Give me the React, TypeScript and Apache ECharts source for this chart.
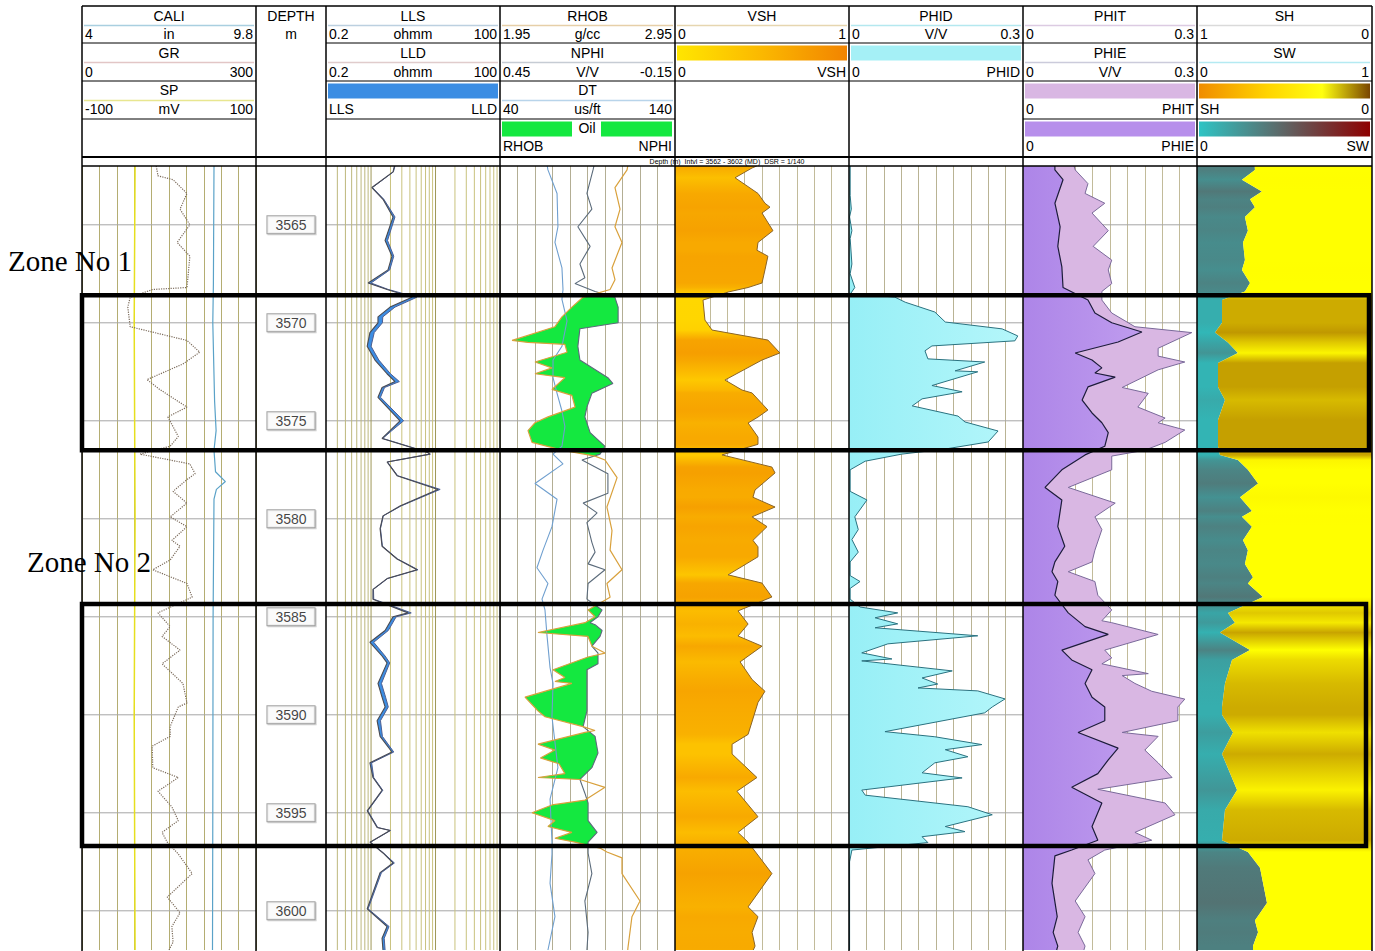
import { useEffect, useRef } from 'react';
import * as echarts from 'echarts';

type Pt = [number, number]; // [depth (m), value]

const DEPTH_TOP = 3562;
const DEPTH_BASE = 3602;
const DEPTH_MARKS = [3565, 3570, 3575, 3580, 3585, 3590, 3595, 3600];
const LOG_GRID = [0.3, 0.4, 0.5, 0.6, 0.7, 0.8, 0.9, 1, 2, 3, 4, 5, 6, 7, 8, 9, 10, 20, 30, 40, 50, 60, 70, 80, 90];

// ---- log curves, [depth, value] ----
const GR: Pt[] = [
  [3562.0, 128], [3562.5, 131], [3562.7, 157], [3563.4, 181], [3564.2, 169], [3565.0, 186], [3565.9, 164],
  [3566.6, 186], [3568.2, 181], [3568.3, 122], [3568.7, 83], [3569.2, 79], [3570.2, 83], [3570.9, 181],
  [3571.5, 203], [3572.1, 174], [3572.9, 112], [3573.4, 134], [3574.3, 181], [3574.8, 148], [3575.8, 166],
  [3576.3, 152], [3576.7, 100], [3577.2, 186], [3577.7, 195], [3578.0, 181], [3578.6, 157], [3579.2, 181],
  [3579.9, 152], [3580.4, 181], [3581.1, 155], [3581.4, 169], [3582.1, 152], [3582.6, 122], [3583.3, 181],
  [3584.0, 190], [3584.8, 131], [3585.5, 152], [3586.0, 138], [3586.7, 169], [3587.4, 138], [3588.4, 174],
  [3589.4, 181], [3589.6, 166], [3590.6, 152], [3591.1, 152], [3591.6, 121], [3592.7, 122], [3593.2, 166],
  [3593.9, 131], [3594.7, 155], [3595.4, 166], [3596.0, 138], [3596.5, 147], [3597.1, 166], [3598.1, 190],
  [3599.3, 147], [3600.1, 169], [3600.8, 155], [3601.6, 157], [3602.0, 150],
];
const CALI: Pt[] = [
  [3562.0, 8.40], [3568.0, 8.38], [3570.0, 8.36], [3574.0, 8.42], [3575.5, 8.47], [3576.5, 8.40], [3577.6, 8.45],
  [3578.1, 8.78], [3578.5, 8.48], [3579.0, 8.40], [3585.0, 8.37], [3595.0, 8.36], [3602.0, 8.35],
];
const SP: Pt[] = [[3562.0, -39], [3570.0, -40], [3580.0, -39], [3590.0, -40], [3602.0, -39]];

const LLS: Pt[] = [
  [3562.0, 2.30], [3562.3, 2.19], [3563.1, 1.03], [3563.7, 1.53], [3564.6, 2.19], [3565.8, 1.65], [3566.6, 2.11],
  [3567.3, 1.83], [3567.97, 0.90], [3568.3, 1.77], [3568.7, 4.32], [3569.2, 1.97], [3569.7, 1.28], [3570.0, 1.28],
  [3570.5, 0.96], [3571.2, 0.87], [3571.9, 1.15], [3572.6, 1.77], [3573.0, 2.35], [3573.3, 1.48], [3573.8, 1.28],
  [3575.0, 2.81], [3575.5, 1.97], [3575.9, 1.48], [3576.6, 7.37], [3576.7, 8.21], [3577.1, 1.77], [3577.8, 2.53],
  [3578.5, 10.9], [3579.35, 2.81], [3579.85, 1.53], [3580.5, 1.38], [3581.4, 1.48], [3582.05, 2.53], [3582.6, 5.16],
  [3583.05, 1.77], [3583.6, 1.07], [3584.1, 1.07], [3584.8, 3.74], [3585.0, 2.19], [3585.7, 1.65], [3586.3, 0.96],
  [3587.0, 1.48], [3587.35, 1.77], [3588.4, 1.28], [3589.1, 1.48], [3589.6, 1.65], [3590.3, 1.24], [3591.1, 1.38],
  [3591.9, 2.11], [3592.45, 0.96], [3593.2, 1.07], [3593.85, 1.48], [3594.9, 0.87], [3595.75, 1.24], [3595.9, 1.97],
  [3596.5, 0.96], [3597.05, 1.53], [3597.56, 2.19], [3598.05, 1.38], [3599.9, 0.87], [3600.8, 1.77], [3601.4, 1.48],
  [3602.0, 1.53],
];
const LLD: Pt[] = [
  [3562.0, 2.35], [3562.3, 2.22], [3563.1, 1.05], [3563.7, 1.58], [3564.6, 2.35], [3565.8, 1.80], [3566.6, 2.25],
  [3567.3, 1.95], [3567.97, 1.00], [3568.3, 1.85], [3568.7, 5.10], [3569.2, 2.35], [3569.7, 1.52], [3570.0, 1.50],
  [3570.5, 1.12], [3571.2, 1.00], [3571.9, 1.32], [3572.6, 2.00], [3573.0, 2.75], [3573.3, 1.62], [3573.8, 1.40],
  [3575.0, 3.20], [3575.5, 2.10], [3575.9, 1.52], [3576.6, 7.50], [3576.7, 8.30], [3577.1, 1.80], [3577.8, 2.58],
  [3578.5, 11.8], [3579.35, 2.90], [3579.85, 1.55], [3580.5, 1.40], [3581.4, 1.50], [3582.05, 2.58], [3582.6, 5.35],
  [3583.05, 1.80], [3583.6, 1.09], [3584.1, 1.10], [3584.8, 4.20], [3585.0, 2.45], [3585.7, 1.85], [3586.3, 1.10],
  [3587.0, 1.65], [3587.35, 1.95], [3588.4, 1.45], [3589.1, 1.68], [3589.6, 1.85], [3590.3, 1.40], [3591.1, 1.50],
  [3591.9, 2.25], [3592.45, 1.02], [3593.2, 1.10], [3593.85, 1.52], [3594.9, 0.89], [3595.75, 1.27], [3595.9, 2.00],
  [3596.5, 0.98], [3597.05, 1.56], [3597.56, 2.30], [3598.05, 1.45], [3599.9, 0.90], [3600.8, 1.90], [3601.4, 1.60],
  [3602.0, 1.65],
];

const RHOB: Pt[] = [
  [3562.0, 2.68], [3562.2, 2.676], [3563.1, 2.607], [3564.2, 2.636], [3565.1, 2.607], [3565.9, 2.647], [3567.2, 2.59],
  [3567.8, 2.607], [3568.3, 2.579], [3568.7, 2.424], [3569.2, 2.361], [3569.7, 2.304], [3570.2, 2.264], [3570.9, 2.019],
  [3571.0, 2.11], [3571.1, 2.321], [3571.5, 2.333], [3572.0, 2.15], [3572.3, 2.247], [3572.6, 2.15], [3572.8, 2.321],
  [3573.4, 2.247], [3573.7, 2.361], [3574.3, 2.379], [3574.8, 2.224], [3575.1, 2.15], [3575.5, 2.11], [3576.1, 2.133],
  [3576.5, 2.304], [3576.8, 2.493], [3577.0, 2.55], [3577.9, 2.619], [3579.4, 2.561], [3580.6, 2.59], [3581.6, 2.579],
  [3582.6, 2.647], [3583.3, 2.561], [3584.0, 2.579], [3584.65, 2.453], [3585.0, 2.493], [3585.3, 2.436], [3585.8, 2.167],
  [3586.0, 2.453], [3586.5, 2.476], [3586.85, 2.55], [3587.05, 2.453], [3587.7, 2.253], [3588.1, 2.321], [3588.3, 2.264],
  [3588.4, 2.361], [3589.1, 2.093], [3589.8, 2.167], [3590.1, 2.207], [3590.6, 2.424], [3590.8, 2.493], [3590.9, 2.436],
  [3591.5, 2.167], [3591.8, 2.264], [3592.2, 2.181], [3592.5, 2.287], [3593.0, 2.321], [3593.2, 2.167], [3593.3, 2.407],
  [3593.7, 2.55], [3594.35, 2.436], [3594.6, 2.247], [3595.0, 2.133], [3595.4, 2.264], [3595.7, 2.224], [3596.0, 2.361],
  [3596.3, 2.264], [3596.5, 2.379], [3596.8, 2.521], [3597.0, 2.561], [3597.3, 2.647], [3598.1, 2.647], [3599.5, 2.75],
  [3600.3, 2.704], [3601.9, 2.681], [3602.0, 2.68],
];
const NPHI: Pt[] = [
  [3562.0, 0.128], [3562.2, 0.131], [3563.4, 0.152], [3564.2, 0.135], [3565.1, 0.183], [3566.1, 0.141], [3567.0, 0.176],
  [3567.7, 0.159], [3568.0, 0.193], [3568.4, 0.124], [3568.7, 0.056], [3569.2, 0.045], [3570.0, 0.045], [3570.3, 0.176],
  [3571.2, 0.183], [3571.9, 0.176], [3572.8, 0.080], [3573.1, 0.063], [3573.6, 0.135], [3574.3, 0.152], [3574.8, 0.159],
  [3575.6, 0.141], [3576.3, 0.090], [3576.7, 0.107], [3577.0, 0.169], [3577.7, 0.080], [3578.7, 0.080], [3579.2, 0.165],
  [3579.7, 0.117], [3580.2, 0.152], [3581.2, 0.135], [3581.7, 0.124], [3582.3, 0.148], [3582.6, 0.090], [3583.3, 0.148],
  [3584.1, 0.152], [3584.65, 0.100], [3585.0, 0.114], [3585.3, 0.141], [3585.4, 0.124], [3585.7, 0.100], [3586.0, 0.107],
  [3586.5, 0.135], [3586.85, 0.114], [3587.4, 0.114], [3587.7, 0.152], [3588.4, 0.152], [3589.8, 0.152], [3590.6, 0.165],
  [3591.1, 0.124], [3591.95, 0.114], [3592.7, 0.135], [3593.3, 0.176], [3594.0, 0.159], [3594.5, 0.148], [3595.4, 0.148],
  [3596.0, 0.117], [3596.5, 0.148], [3597.05, 0.148], [3598.1, 0.135], [3599.5, 0.159], [3601.1, 0.148], [3602.0, 0.152],
];
const DT: Pt[] = [
  [3562.0, 67.0], [3562.2, 67.4], [3563.4, 72.6], [3565.1, 73.1], [3565.9, 71.4], [3567.2, 75.4], [3568.3, 76.0],
  [3568.8, 75.4], [3569.9, 78.3], [3571.2, 75.4], [3571.9, 70.3], [3572.8, 70.3], [3573.6, 72.6], [3574.5, 75.4],
  [3575.3, 77.1], [3576.3, 75.4], [3576.7, 70.3], [3577.2, 76.0], [3578.2, 60.0], [3579.0, 72.6], [3580.4, 69.7],
  [3581.6, 64.6], [3582.5, 61.1], [3583.3, 67.4], [3584.1, 64.0], [3584.65, 65.7], [3586.0, 66.9], [3587.6, 68.6],
  [3588.4, 70.3], [3590.1, 69.7], [3592.7, 73.1], [3594.3, 68.6], [3596.5, 69.7], [3597.1, 69.7], [3598.6, 68.6],
  [3600.3, 71.4], [3602.0, 67.4],
];

const VSH: Pt[] = [
  [3562.0, 0.47], [3562.1, 0.443], [3562.6, 0.345], [3563.4, 0.477], [3563.9, 0.517], [3564.1, 0.546], [3564.4, 0.5],
  [3565.3, 0.563], [3565.9, 0.477], [3566.3, 0.471], [3566.6, 0.534], [3567.3, 0.517], [3567.97, 0.5], [3568.2, 0.42],
  [3568.43, 0.305], [3568.84, 0.161], [3569.86, 0.172], [3570.37, 0.213], [3570.88, 0.534], [3571.54, 0.603],
  [3571.9, 0.5], [3572.56, 0.362], [3572.92, 0.287], [3573.43, 0.385], [3573.58, 0.443], [3574.45, 0.534],
  [3574.81, 0.477], [3575.11, 0.42], [3575.83, 0.477], [3576.2, 0.477], [3576.74, 0.27], [3577.36, 0.557],
  [3577.66, 0.575], [3578.53, 0.46], [3578.9, 0.448], [3579.4, 0.575], [3579.9, 0.443], [3580.4, 0.529], [3581.1, 0.448],
  [3581.43, 0.477], [3581.94, 0.477], [3582.86, 0.305], [3583.28, 0.5], [3583.99, 0.557], [3584.7, 0.362],
  [3585.37, 0.42], [3585.98, 0.362], [3586.5, 0.5], [3587.3, 0.374], [3588.2, 0.443], [3588.8, 0.517], [3589.37, 0.477],
  [3591.0, 0.42], [3591.5, 0.328], [3592.0, 0.328], [3593.2, 0.471], [3593.9, 0.356], [3595.2, 0.477], [3596.0, 0.362],
  [3596.5, 0.42], [3598.1, 0.557], [3599.8, 0.42], [3600.3, 0.477], [3601.1, 0.443], [3601.8, 0.46], [3602.0, 0.45],
];
const PHID: Pt[] = [
  [3562.0, 0.002], [3563.5, 0.002], [3564.2, 0.004], [3564.6, 0.001], [3565.3, 0.005], [3565.7, 0.002], [3567.0, 0.005],
  [3567.5, 0.002], [3568.2, 0.010], [3568.5, 0.003], [3568.69, 0.079], [3568.95, 0.097], [3569.45, 0.148],
  [3569.96, 0.166], [3570.31, 0.264], [3570.67, 0.291], [3570.92, 0.286], [3571.18, 0.143], [3571.43, 0.131],
  [3571.84, 0.136], [3572.0, 0.234], [3572.45, 0.183], [3572.5, 0.222], [3573.2, 0.143], [3573.52, 0.195],
  [3573.88, 0.126], [3574.24, 0.109], [3574.76, 0.188], [3575.06, 0.200], [3575.52, 0.257], [3576.08, 0.240],
  [3576.44, 0.166], [3576.7, 0.091], [3577.06, 0.028], [3577.5, 0.002], [3578.6, 0.002], [3579.04, 0.031],
  [3579.9, 0.010], [3580.55, 0.016], [3581.06, 0.005], [3581.7, 0.016], [3582.2, 0.002], [3582.9, 0.002],
  [3583.2, 0.019], [3583.55, 0.002], [3584.1, 0.002], [3584.5, 0.019], [3584.8, 0.084], [3585.05, 0.045],
  [3585.36, 0.084], [3585.56, 0.045], [3585.97, 0.222], [3586.38, 0.067], [3586.84, 0.022], [3587.15, 0.074],
  [3587.25, 0.022], [3587.76, 0.178], [3588.12, 0.126], [3588.43, 0.153], [3588.63, 0.119], [3588.78, 0.222],
  [3589.19, 0.269], [3589.6, 0.247], [3589.9, 0.234], [3590.86, 0.062], [3591.12, 0.148], [3591.52, 0.229],
  [3591.78, 0.166], [3592.14, 0.205], [3592.45, 0.148], [3592.96, 0.126], [3593.22, 0.195], [3593.84, 0.022],
  [3594.1, 0.028], [3594.69, 0.205], [3595.1, 0.247], [3595.7, 0.166], [3595.96, 0.200], [3596.22, 0.126],
  [3596.52, 0.136], [3596.9, 0.005], [3597.5, 0.001], [3602.0, 0.001],
];
const PHIT: Pt[] = [
  [3562.0, 0.088], [3562.2, 0.090], [3562.9, 0.112], [3563.4, 0.107], [3563.9, 0.141], [3564.4, 0.119], [3565.3, 0.147],
  [3566.1, 0.121], [3566.8, 0.153], [3567.3, 0.147], [3568.0, 0.153], [3568.4, 0.136], [3568.84, 0.136], [3569.5, 0.153],
  [3570.2, 0.193], [3570.5, 0.291], [3571.3, 0.233], [3571.7, 0.233], [3572.0, 0.279], [3572.4, 0.233], [3573.3, 0.171],
  [3573.6, 0.216], [3574.3, 0.198], [3574.86, 0.245], [3575.1, 0.233], [3575.47, 0.279], [3576.1, 0.245], [3576.5, 0.210],
  [3576.8, 0.153], [3577.5, 0.153], [3578.4, 0.078], [3579.2, 0.159], [3579.9, 0.124], [3580.55, 0.136], [3581.6, 0.124],
  [3582.2, 0.119], [3582.7, 0.078], [3583.2, 0.124], [3583.9, 0.129], [3584.65, 0.153], [3585.2, 0.136], [3585.3, 0.153],
  [3585.9, 0.233], [3586.7, 0.141], [3587.1, 0.153], [3587.4, 0.136], [3587.9, 0.216], [3588.0, 0.171], [3588.4, 0.193],
  [3588.8, 0.222], [3589.2, 0.279], [3589.6, 0.267], [3590.3, 0.267], [3590.9, 0.171], [3591.1, 0.233], [3591.8, 0.210],
  [3592.45, 0.233], [3593.2, 0.257], [3593.8, 0.129], [3594.5, 0.245], [3595.1, 0.262], [3596.0, 0.193], [3596.4, 0.222],
  [3596.9, 0.141], [3597.4, 0.112], [3598.1, 0.124], [3599.5, 0.090], [3600.3, 0.107], [3601.1, 0.095], [3601.8, 0.107],
  [3602.0, 0.105],
];
const PHIE: Pt[] = [
  [3562.0, 0.055], [3562.2, 0.055], [3562.7, 0.069], [3563.9, 0.055], [3565.1, 0.064], [3566.1, 0.060], [3567.15, 0.067],
  [3568.2, 0.069], [3568.84, 0.112], [3569.5, 0.124], [3570.0, 0.153], [3570.47, 0.205], [3570.98, 0.164], [3571.54, 0.090],
  [3571.9, 0.119], [3572.3, 0.136], [3572.56, 0.124], [3572.77, 0.159], [3573.27, 0.112], [3573.94, 0.102], [3574.6, 0.119],
  [3575.1, 0.136], [3575.6, 0.147], [3576.3, 0.141], [3576.74, 0.107], [3577.5, 0.067], [3578.4, 0.038], [3579.04, 0.067],
  [3580.4, 0.060], [3581.4, 0.072], [3582.2, 0.055], [3582.7, 0.050], [3583.2, 0.060], [3583.9, 0.055], [3584.8, 0.078],
  [3585.5, 0.107], [3585.9, 0.147], [3586.7, 0.067], [3587.2, 0.084], [3587.7, 0.119], [3588.4, 0.107], [3589.1, 0.119],
  [3589.6, 0.141], [3590.3, 0.141], [3590.9, 0.095], [3591.7, 0.164], [3592.3, 0.147], [3593.0, 0.129], [3593.7, 0.084],
  [3594.5, 0.136], [3595.7, 0.119], [3596.4, 0.129], [3596.9, 0.084], [3597.2, 0.055], [3598.6, 0.050], [3600.3, 0.059],
  [3601.1, 0.052], [3601.8, 0.060], [3602.0, 0.058],
];
const SW: Pt[] = [
  [3562.0, 0.33], [3562.2, 0.331], [3562.7, 0.257], [3563.3, 0.371], [3563.7, 0.303], [3564.1, 0.331], [3564.6, 0.274],
  [3565.3, 0.291], [3565.9, 0.263], [3566.8, 0.274], [3567.3, 0.257], [3567.97, 0.303], [3568.4, 0.274], [3568.84, 0.143],
  [3570.0, 0.143], [3570.5, 0.103], [3571.0, 0.177], [3571.54, 0.234], [3572.05, 0.12], [3573.27, 0.12], [3573.94, 0.16],
  [3574.96, 0.12], [3576.3, 0.12], [3576.74, 0.131], [3577.0, 0.234], [3577.5, 0.291], [3578.2, 0.349], [3578.9, 0.246],
  [3579.6, 0.314], [3579.9, 0.257], [3580.4, 0.314], [3581.1, 0.263], [3581.6, 0.291], [3582.3, 0.274], [3582.98, 0.32],
  [3583.3, 0.291], [3583.99, 0.377], [3584.8, 0.177], [3585.3, 0.217], [3585.8, 0.131], [3586.7, 0.303], [3587.2, 0.2],
  [3588.4, 0.16], [3589.6, 0.143], [3590.0, 0.143], [3590.9, 0.206], [3592.0, 0.143], [3593.84, 0.229], [3594.86, 0.16],
  [3596.4, 0.143], [3597.0, 0.291], [3597.8, 0.36], [3599.6, 0.4], [3600.5, 0.331], [3601.1, 0.349], [3601.8, 0.32],
  [3602.0, 0.32],
];

const ZONES = [
  { name: 'Zone No 1', top: 3568.6, base: 3576.5, right: 1369, labelX: 8, labelDepth: 3566.85 },
  { name: 'Zone No 2', top: 3584.35, base: 3596.7, right: 1366, labelX: 27, labelDepth: 3582.2 },
];

// ---- layout ----
const TRACK_X = [82, 256, 326, 500, 675, 849, 1023, 1197, 1372];
const PLOT_TOP = 166;
const PLOT_H = 784;
const SANS = '"Liberation Sans", Arial, Helvetica, sans-serif';
const SERIF = '"Liberation Serif", "Times New Roman", serif';
const TITLE_Y = [16, 53, 90, 128];
const CLINE_Y = [25.5, 62.5, 100.5];
const SCALE_Y = [34, 72, 109, 146];
const SEP_Y = [43, 81, 119, 157];

const X = { F0: 0, GR: 1, CALI: 2, SP: 3, DEPTH: 4, RES: 5, F3: 6, RHOB: 7, NPHI: 8, DT: 9, F4: 10, VSH: 11, F5: 12, PHID: 13, F6: 14, PHI: 15, SW: 16 };

// ---- colour ramps ----
const VSH_RAMP: [number, string][] = [[0, '#ffe600'], [0.2, '#ffd300'], [0.33, '#fdc200'], [0.45, '#f8ab00'], [1, '#f07c00']];
const SW_RAMP: [number, string][] = [[0, '#22c6c6'], [0.12, '#33b4b4'], [0.2, '#3c9fa0'], [0.28, '#4a8787'], [0.4, '#537373'], [1, '#900000']];
const SH_RAMP: [number, string][] = [[0.1, '#bf9700'], [0.14, '#cba800'], [0.18, '#e2cb00'], [0.23, '#fbf300'], [0.26, '#ffff00'], [1, '#ffff00']];

function hex(h: string) {
  const n = parseInt(h.slice(1), 16);
  return [(n >> 16) & 255, (n >> 8) & 255, n & 255];
}
function ramp(stops: [number, string][], v: number) {
  if (v <= stops[0][0]) return stops[0][1];
  for (let i = 1; i < stops.length; i++) {
    if (v <= stops[i][0]) {
      const t = (v - stops[i - 1][0]) / (stops[i][0] - stops[i - 1][0]);
      const a = hex(stops[i - 1][1]);
      const b = hex(stops[i][1]);
      return `rgb(${a.map((c, k) => Math.round(c + (b[k] - c) * t)).join(',')})`;
    }
  }
  return stops[stops.length - 1][1];
}

function valueAt(curve: Pt[], d: number) {
  if (d <= curve[0][0]) return curve[0][1];
  for (let i = 1; i < curve.length; i++) {
    if (d <= curve[i][0]) {
      const [d0, v0] = curve[i - 1];
      const [d1, v1] = curve[i];
      return v0 + ((v1 - v0) * (d - d0)) / (d1 - d0);
    }
  }
  return curve[curve.length - 1][1];
}

// neutron expressed on the density scale of the shared track
const nphiOnRhobScale = (n: number) => 1.95 + (0.45 - n) / 0.6;

// density/neutron crossover intervals (density left of neutron)
function crossoverSegments() {
  const depths = Array.from(new Set([...RHOB.map((p) => p[0]), ...NPHI.map((p) => p[0])])).sort((a, b) => a - b);
  const rows = depths.map((d) => ({ d, r: valueAt(RHOB, d), n: nphiOnRhobScale(valueAt(NPHI, d)) }));
  const segs: { d: number; r: number; n: number }[][] = [];
  let cur: { d: number; r: number; n: number }[] | null = null;
  rows.forEach((a, i) => {
    const on = a.r < a.n;
    if (i > 0) {
      const p = rows[i - 1];
      const pon = p.r < p.n;
      if (on !== pon) {
        const t = (p.n - p.r) / (p.n - p.r - (a.n - a.r));
        const d = p.d + t * (a.d - p.d);
        const v = p.r + t * (a.r - p.r);
        const c = { d, r: v, n: v };
        if (pon && cur) {
          cur.push(c);
          segs.push(cur);
          cur = null;
        } else cur = [c];
      }
    }
    if (on) {
      if (!cur) cur = [];
      cur.push(a);
    }
  });
  if (cur) segs.push(cur);
  return segs;
}

function depthGradient(api: any, data: Pt[], midX: number, stops: [number, string][]) {
  const y0 = api.coord([midX, DEPTH_TOP])[1];
  const y1 = api.coord([midX, DEPTH_BASE])[1];
  const cs = data.map(([d, v]) => ({
    offset: Math.min(1, Math.max(0, (api.coord([midX, d])[1] - y0) / (y1 - y0))),
    color: ramp(stops, v),
  }));
  return new echarts.graphic.LinearGradient(0, y0, 0, y1, cs, true);
}

function areaToEdge(api: any, data: Pt[], edge: number, fill: any) {
  const pts = data.map(([d, v]) => api.coord([v, d]));
  pts.push(api.coord([edge, data[data.length - 1][0]]));
  pts.push(api.coord([edge, data[0][0]]));
  return { type: 'polygon', shape: { points: pts }, style: { fill }, silent: true };
}

function fillSeries(xi: number, yi: number, dummyX: number, render: (api: any) => any, z = 2) {
  return {
    type: 'custom',
    xAxisIndex: xi,
    yAxisIndex: yi,
    data: [[dummyX, DEPTH_TOP]],
    silent: true,
    z,
    renderItem: (_p: any, api: any) => render(api),
  };
}

function curveSeries(data: Pt[], xi: number, yi: number, color: string, width = 1, type = 'solid', z = 3) {
  return {
    type: 'line',
    xAxisIndex: xi,
    yAxisIndex: yi,
    data: data.map(([d, v]) => [v, d]),
    showSymbol: false,
    symbol: 'none',
    silent: true,
    z,
    lineStyle: { color, width, type },
  };
}

function depthGridSeries(xi: number, yi: number, xVal: number) {
  return {
    type: 'custom',
    xAxisIndex: xi,
    yAxisIndex: yi,
    data: DEPTH_MARKS.map((d) => [xVal, d]),
    silent: true,
    z: 1,
    renderItem: (params: any, api: any) => {
      const cs = params.coordSys;
      const y = api.coord([api.value(0), api.value(1)])[1];
      return { type: 'line', shape: { x1: cs.x, y1: y, x2: cs.x + cs.width, y2: y }, style: { stroke: '#a6a6a6', lineWidth: 1 } };
    },
  };
}

function buildOption(): any {
  const grid = TRACK_X.slice(0, -1).map((x, i) => ({
    left: x,
    top: PLOT_TOP,
    width: TRACK_X[i + 1] - x,
    height: PLOT_H,
    containLabel: false,
    outerBoundsMode: 'none',
  }));
  const yAxis = grid.map((_, i) => ({ gridIndex: i, type: 'value', inverse: true, min: DEPTH_TOP, max: DEPTH_BASE, show: false }));
  const frame = (g: number, color: string) => ({
    gridIndex: g, type: 'value', min: 0, max: 10, interval: 1,
    axisLine: { show: false }, axisTick: { show: false }, axisLabel: { show: false },
    splitLine: { show: true, lineStyle: { color, width: 1 } },
  });
  const hid = (g: number, min: number, max: number, extra: any = {}) => ({ gridIndex: g, type: 'value', min, max, show: false, ...extra });
  const xAxis = [
    frame(0, '#b4ad72'),
    hid(0, 0, 300),
    hid(0, 4, 9.8),
    hid(0, -100, 100),
    hid(1, 0, 1),
    { gridIndex: 2, type: 'log', logBase: 10, min: 0.2, max: 100, show: false },
    frame(3, '#b3ae94'),
    hid(3, 1.95, 2.95),
    hid(3, -0.15, 0.45, { inverse: true }),
    hid(3, 40, 140),
    frame(4, '#c2bb9a'),
    hid(4, 0, 1),
    frame(5, '#b9b394'),
    hid(5, 0, 0.3),
    frame(6, '#c2bb9a'),
    hid(6, 0, 0.3),
    hid(7, 0, 1),
  ];

  const segs = crossoverSegments();

  const series: any[] = [
    // horizontal depth grid
    depthGridSeries(X.F0, 0, 5),
    depthGridSeries(X.RES, 2, 1),
    depthGridSeries(X.F3, 3, 5),
    depthGridSeries(X.F4, 4, 5),
    depthGridSeries(X.F5, 5, 5),
    depthGridSeries(X.F6, 6, 5),
    // logarithmic grid of the resistivity track
    {
      type: 'custom', xAxisIndex: X.RES, yAxisIndex: 2, silent: true, z: 1,
      data: LOG_GRID.map((v) => [v, DEPTH_TOP]),
      renderItem: (params: any, api: any) => {
        const cs = params.coordSys;
        const v = api.value(0);
        const x = api.coord([v, DEPTH_TOP])[0];
        const decade = v === 1 || v === 10;
        return {
          type: 'line',
          shape: { x1: x, y1: cs.y, x2: x, y2: cs.y + cs.height },
          style: { stroke: decade ? '#9e9858' : (v >= 2 && v <= 9) || v >= 20 ? '#c9c27e' : '#bdb77c', lineWidth: 1 },
        };
      },
    },
    // depth labels
    {
      type: 'scatter', xAxisIndex: X.DEPTH, yAxisIndex: 1, silent: true, z: 4,
      symbolSize: 1, itemStyle: { color: 'rgba(0,0,0,0)' },
      data: DEPTH_MARKS.map((d) => [0.5, d]),
      label: {
        show: true, position: 'inside', formatter: (p: any) => String(p.value[1]),
        fontSize: 14, fontFamily: SANS, color: '#111', backgroundColor: '#fff',
        borderColor: '#8c8c8c', borderWidth: 1, padding: [2, 8, 1, 8],
        shadowColor: 'rgba(0,0,0,0.25)', shadowOffsetX: 1, shadowOffsetY: 1, shadowBlur: 0,
      },
    },
    // resistivity separation fill
    fillSeries(X.RES, 2, 1, (api) => ({
      type: 'polygon',
      shape: {
        points: [
          ...LLS.map(([d, v]) => api.coord([v, d])),
          ...LLD.slice().reverse().map(([d, v]) => api.coord([v, d])),
        ],
      },
      style: { fill: '#3b8de3' },
      silent: true,
    })),
    // density-neutron oil crossover
    fillSeries(X.RHOB, 3, 2.4, (api) => ({
      type: 'group',
      children: segs.map((s) => ({
        type: 'polygon',
        shape: {
          points: [...s.map((r) => api.coord([r.r, r.d])), ...s.slice().reverse().map((r) => api.coord([r.n, r.d]))],
        },
        style: { fill: '#14e840' },
        silent: true,
      })),
    })),
    // shale volume
    fillSeries(X.VSH, 4, 0.5, (api) => areaToEdge(api, VSH, 0, depthGradient(api, VSH, 0.5, VSH_RAMP))),
    // density porosity
    fillSeries(X.PHID, 5, 0.1, (api) =>
      areaToEdge(api, PHID, 0, new echarts.graphic.LinearGradient(0, 0, 1, 0, [{ offset: 0, color: '#97eff6' }, { offset: 1, color: '#b4f6fa' }]))),
    // total / effective porosity
    fillSeries(X.PHI, 6, 0.1, (api) => areaToEdge(api, PHIT, 0, '#d9b7e3')),
    fillSeries(X.PHI, 6, 0.1, (api) =>
      areaToEdge(api, PHIE, 0, new echarts.graphic.LinearGradient(0, 0, 1, 0, [{ offset: 0, color: '#ad85e8' }, { offset: 1, color: '#bf9cee' }]))),
    // water / hydrocarbon saturation
    fillSeries(X.SW, 7, 0.5, (api) => areaToEdge(api, SW, 0, depthGradient(api, SW, 0.5, SW_RAMP))),
    fillSeries(X.SW, 7, 0.5, (api) => areaToEdge(api, SW, 1, depthGradient(api, SW, 0.5, SH_RAMP))),
    // curves
    curveSeries(SP, X.SP, 0, '#e6df1e', 1.5),
    curveSeries(CALI, X.CALI, 0, '#5aa2c8', 1.2),
    curveSeries(GR, X.GR, 0, '#7b6b5b', 1.2, 'dotted'),
    curveSeries(LLD, X.RES, 2, '#4e5f92', 1),
    curveSeries(LLS, X.RES, 2, '#4a4a52', 1.1),
    curveSeries(DT, X.DT, 3, '#6f9fcf', 1.1),
    curveSeries(NPHI, X.NPHI, 3, '#5b6b7b', 1.1),
    curveSeries(RHOB, X.RHOB, 3, '#d9a13c', 1.2),
    curveSeries(VSH, X.VSH, 4, '#8a6428', 1),
    curveSeries(PHID, X.PHID, 5, '#2a7280', 1),
    curveSeries(PHIT, X.PHI, 6, '#7a6a9a', 1),
    curveSeries(PHIE, X.PHI, 6, '#1c1c3a', 1.2),
  ];

  return {
    animation: false,
    backgroundColor: '#ffffff',
    grid,
    xAxis,
    yAxis,
    series,
  };
}

function T(x: number, y: number, text: string, align = 'center', size = 14, family = SANS) {
  return {
    type: 'text', x, y, silent: true, z: 60,
    style: { text, fill: '#000', font: `${size}px ${family}`, textAlign: align, textVerticalAlign: 'middle', align, verticalAlign: 'middle' },
  };
}
function L(x1: number, y1: number, x2: number, y2: number, stroke = '#000', lineWidth = 1) {
  return { type: 'line', silent: true, z: 60, shape: { x1, y1, x2, y2 }, style: { stroke, lineWidth } };
}
function R(x: number, y: number, width: number, height: number, fill: any) {
  return { type: 'rect', silent: true, z: 60, shape: { x, y, width, height }, style: { fill } };
}

function buildGraphics(chart: any) {
  const els: any[] = [];
  const curveRow = (ti: number, row: number, title: string, lineColor: string, l: string, m: string, r: string) => {
    const x0 = TRACK_X[ti];
    const x1 = TRACK_X[ti + 1];
    const cx = (x0 + x1) / 2;
    els.push(T(cx, TITLE_Y[row], title));
    els.push(L(x0 + 2, CLINE_Y[row], x1 - 2, CLINE_Y[row], lineColor, 1.5));
    els.push(T(x0 + 3, SCALE_Y[row], l, 'left'));
    if (m) els.push(T(cx, SCALE_Y[row], m));
    els.push(T(x1 - 3, SCALE_Y[row], r, 'right'));
    els.push(L(x0, SEP_Y[row], x1, SEP_Y[row], '#000', 1));
  };
  const swatchRow = (ti: number, row: number, fill: any, l: string, r: string) => {
    const x0 = TRACK_X[ti];
    const x1 = TRACK_X[ti + 1];
    els.push(R(x0 + 2, SEP_Y[row - 1] + 2.5, x1 - x0 - 4, 15, fill));
    els.push(T(x0 + 3, SCALE_Y[row], l, 'left'));
    els.push(T(x1 - 3, SCALE_Y[row], r, 'right'));
    if (row < 3) els.push(L(x0, SEP_Y[row], x1, SEP_Y[row], '#000', 1));
  };
  const hGrad = (stops: [number, string][]) =>
    new echarts.graphic.LinearGradient(0, 0, 1, 0, stops.map(([offset, color]) => ({ offset, color })));

  curveRow(0, 0, 'CALI', '#a9cfe0', '4', 'in', '9.8');
  curveRow(0, 1, 'GR', '#e2c6c6', '0', '', '300');
  curveRow(0, 2, 'SP', '#e8e690', '-100', 'mV', '100');

  els.push(T(291, TITLE_Y[0], 'DEPTH'), T(291, SCALE_Y[0], 'm'));

  curveRow(2, 0, 'LLS', '#bcd0e0', '0.2', 'ohmm', '100');
  curveRow(2, 1, 'LLD', '#e0cccc', '0.2', 'ohmm', '100');
  swatchRow(2, 2, '#3b8de3', 'LLS', 'LLD');

  curveRow(3, 0, 'RHOB', '#e6cfa8', '1.95', 'g/cc', '2.95');
  curveRow(3, 1, 'NPHI', '#c6ccd4', '0.45', 'V/V', '-0.15');
  curveRow(3, 2, 'DT', '#b8d4ea', '40', 'us/ft', '140');
  els.push(R(502, SEP_Y[2] + 2.5, 70, 15, '#14e840'), R(601, SEP_Y[2] + 2.5, 71, 15, '#14e840'));
  els.push(T(587, TITLE_Y[3], 'Oil'));
  els.push(T(503, SCALE_Y[3], 'RHOB', 'left'), T(672, SCALE_Y[3], 'NPHI', 'right'));

  curveRow(4, 0, 'VSH', '#e6d6b0', '0', '', '1');
  swatchRow(4, 1, hGrad([[0, '#ffe600'], [0.5, '#fbb800'], [1, '#f28400']]), '0', 'VSH');

  curveRow(5, 0, 'PHID', '#b4e8ef', '0', 'V/V', '0.3');
  swatchRow(5, 1, '#a5f0f6', '0', 'PHID');

  curveRow(6, 0, 'PHIT', '#dccbe2', '0', '', '0.3');
  curveRow(6, 1, 'PHIE', '#cbcbdb', '0', 'V/V', '0.3');
  swatchRow(6, 2, '#d9b7e3', '0', 'PHIT');
  swatchRow(6, 3, '#b78feb', '0', 'PHIE');

  curveRow(7, 0, 'SH', '#dadada', '1', '', '0');
  curveRow(7, 1, 'SW', '#b4eaf2', '0', '', '1');
  swatchRow(7, 2, hGrad([[0, '#f08c00'], [0.4, '#ffd400'], [0.72, '#ffff10'], [1, '#7a4600']]), 'SH', '0');
  swatchRow(7, 3, hGrad([[0, '#2ec4c4'], [0.45, '#5a6e6e'], [1, '#8e0000']]), '0', 'SW');

  // frame
  els.push(L(82, 6, 1372, 6, '#000', 1.5));
  els.push(L(82, 157, 1372, 157, '#000', 2));
  els.push(L(82, PLOT_TOP, 1372, PLOT_TOP, '#000', 1.5));
  TRACK_X.forEach((x) => els.push(L(x, 6, x, 951, '#000', 1.5)));
  els.push(T(727, 161.5, 'Depth (m)  Intvl = 3562 - 3602 (MD)  DSR = 1/140', 'center', 7));

  // zones
  ZONES.forEach((z) => {
    const y0 = chart.convertToPixel({ yAxisIndex: 0 }, z.top);
    const y1 = chart.convertToPixel({ yAxisIndex: 0 }, z.base);
    const yl = chart.convertToPixel({ yAxisIndex: 0 }, z.labelDepth);
    els.push({
      type: 'rect', silent: true, z: 80,
      shape: { x: 82, y: y0, width: z.right - 82, height: y1 - y0 },
      style: { fill: 'none', stroke: '#000', lineWidth: 4.5 },
    });
    const t = T(z.labelX, yl, z.name, 'left', 29, SERIF);
    t.z = 90;
    els.push(t);
  });
  return els;
}

export default function App() {
  const ref = useRef<HTMLDivElement>(null);
  useEffect(() => {
    const chart = echarts.init(ref.current!, null, { renderer: 'svg' });
    chart.setOption(buildOption());
    chart.setOption({ graphic: { elements: buildGraphics(chart) } });
    return () => chart.dispose();
  }, []);
  return (
    <div
      ref={ref}
      style={{ position: 'fixed', left: 0, top: 0, width: 1375, height: 951, background: '#fff' }}
    />
  );
}
